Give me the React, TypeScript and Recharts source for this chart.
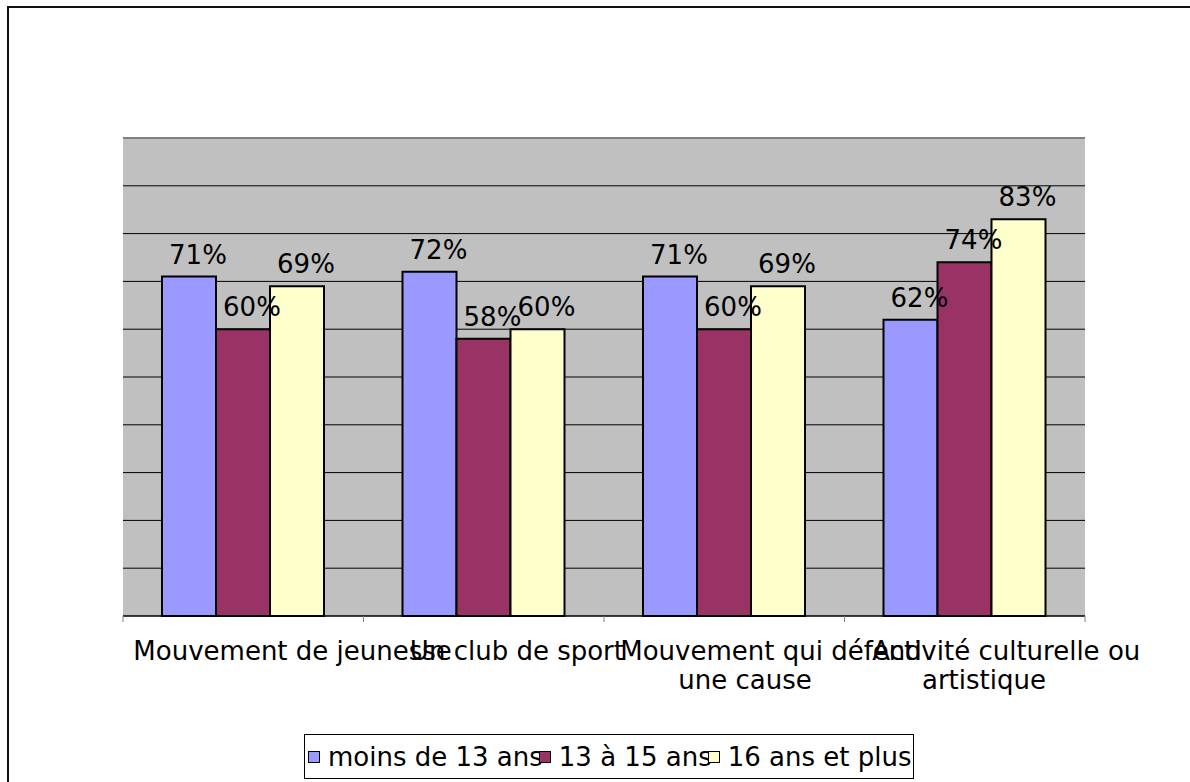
import { BarChart, Bar, XAxis, YAxis, CartesianGrid, ReferenceLine, LabelList } from 'recharts';

const categories = [
  'Mouvement de jeunesse',
  'Un club de sport',
  'Mouvement qui défend une cause',
  'Activité culturelle ou artistique',
];
// how the category names wrap under the axis
const categoryLines = [
  ['Mouvement de jeunesse'],
  ['Un club de sport'],
  ['Mouvement qui défend', 'une cause'],
  ['Activité culturelle ou', 'artistique'],
];

const seriesNames = ['moins de 13 ans', '13 à 15 ans', '16 ans et plus'];
const moins13 = [71, 72, 71, 62];
const de13a15 = [60, 58, 60, 74];
const plus16 = [69, 60, 69, 83];
const yTicks = [0, 10, 20, 30, 40, 50, 60, 70, 80, 90, 100];

const colors = ['#9999FF', '#993366', '#FFFFCC'];
const FONT = '"DejaVu Sans", Verdana, sans-serif';
const FONT_SIZE = 26;

const data = categories.map((c, i) => ({
  category: c,
  s0: moins13[i],
  s1: de13a15[i],
  s2: plus16[i],
}));

let ctx: CanvasRenderingContext2D | null = null;
function textWidth(s: string) {
  if (!ctx) {
    ctx = document.createElement('canvas').getContext('2d');
  }
  if (!ctx) return s.length * FONT_SIZE * 0.6;
  ctx.font = `${FONT_SIZE}px "DejaVu Sans"`;
  return ctx.measureText(s).width;
}

// Excel-like placement: text starts left of centre by about a third of its width
const SHIFT = 0.345;

function NoTick() {
  return <g />;
}

function CategoryTick(props: any) {
  const { x, y, index, width, visibleTicksCount, payload } = props;
  const band = width && visibleTicksCount ? width / visibleTicksCount : (payload?.offset || 120) * 2;
  const lines = categoryLines[index] || [String(payload.value)];
  return (
    <g>
      <line x1={x - band / 2} x2={x - band / 2} y1={y} y2={y + 6} stroke="#808080" strokeWidth={1} />
      {index === visibleTicksCount - 1 && (
        <line x1={x + band / 2} x2={x + band / 2} y1={y} y2={y + 6} stroke="#808080" strokeWidth={1} />
      )}
      {lines.map((line: string, i: number) => (
        <text
          key={i}
          x={x - SHIFT * textWidth(line)}
          y={y + 44 + i * 29}
          textAnchor="start"
          fontFamily={FONT}
          fontSize={FONT_SIZE}
          fill="#000"
        >
          {line}
        </text>
      ))}
    </g>
  );
}

function ValueLabel(props: any) {
  const { x, y, width, value } = props;
  const label = `${value}%`;
  return (
    <text
      x={x + width / 2 - SHIFT * textWidth(label)}
      y={y - 13}
      textAnchor="start"
      fontFamily={FONT}
      fontSize={FONT_SIZE}
      fill="#000"
    >
      {label}
    </text>
  );
}

export default function App() {
  return (
    <div style={{ position: 'fixed', left: 0, top: 0, width: 1190, height: 782, overflow: 'hidden', background: '#fff' }}>
      <div
        style={{
          position: 'absolute',
          left: 7,
          top: 6,
          width: 1300,
          height: 900,
          borderLeft: '2px solid #111',
          borderTop: '2px solid #111',
        }}
      />
      <div style={{ position: 'absolute', left: 0, top: 0 }}>
        <BarChart
          width={1190}
          height={782}
          data={data}
          margin={{ top: 138, right: 105, bottom: 106, left: 123 }}
          barCategoryGap={39}
          barGap={0}
        >
          <CartesianGrid
            vertical={false}
            fill="#C0C0C0"
            fillOpacity={1}
            stroke="#000"
            strokeWidth={1}
          />
          <YAxis
            domain={[0, 100]}
            ticks={yTicks}
            width={0}
            tick={<NoTick />}
            tickLine={false}
            axisLine={{ stroke: '#404040', strokeWidth: 2 }}
          />
          <XAxis
            dataKey="category"
            interval={0}
            height={60}
            tickSize={0}
            tickMargin={0}
            tickLine={false}
            axisLine={{ stroke: '#000', strokeWidth: 1 }}
            tick={<CategoryTick />}
          />
          <ReferenceLine y={100} stroke="#808080" strokeWidth={2} />
          {['s0', 's1', 's2'].map((key, i) => (
            <Bar
              key={key}
              dataKey={key}
              name={seriesNames[i]}
              fill={colors[i]}
              stroke="#000"
              strokeWidth={2}
              isAnimationActive={false}
            >
              <LabelList dataKey={key} content={<ValueLabel />} />
            </Bar>
          ))}
        </BarChart>
      </div>
      <div
        style={{
          position: 'absolute',
          left: 304,
          top: 734,
          height: 45,
          border: '1px solid #000',
          boxSizing: 'border-box',
          display: 'flex',
          alignItems: 'center',
          paddingLeft: 3,
          paddingRight: 2,
          fontFamily: FONT,
          fontSize: FONT_SIZE,
          whiteSpace: 'nowrap',
          background: '#fff',
        }}
      >
        {seriesNames.map((name, i) => (
          <div key={name} style={{ display: 'flex', alignItems: 'center', marginLeft: i === 0 ? 0 : -4 }}>
            <span
              style={{
                display: 'inline-block',
                width: 12,
                height: 12,
                background: colors[i],
                border: '1.5px solid #000',
                boxSizing: 'border-box',
                marginRight: 8,
              }}
            />
            <span>{name}</span>
          </div>
        ))}
      </div>
    </div>
  );
}
